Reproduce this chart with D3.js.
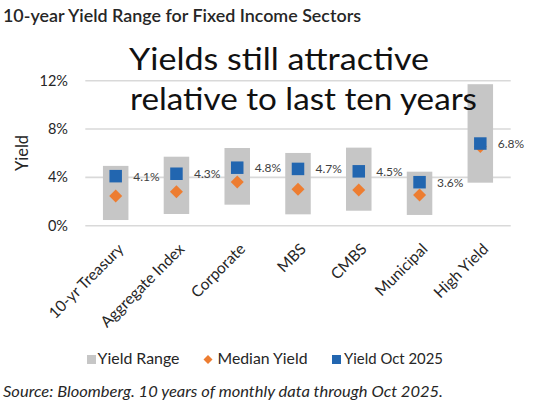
<!DOCTYPE html>
<html>
<head>
<meta charset="utf-8">
<script src="https://cdn.jsdelivr.net/npm/d3@7"></script>
<style>
  body { margin: 0; background: #fff; }
  text { font-family: Lato, "Noto Sans", sans-serif; }
</style>
</head>
<body>
<div id="chart"></div>
<script>
// sectors and yields (percent)
var categories = ["10-yr Treasury", "Aggregate Index", "Corporate", "MBS", "CMBS", "Municipal", "High Yield"];
var rangeLow  = [0.47, 0.97, 1.74, 0.94, 1.24, 0.89, 3.56];
var rangeHigh = [4.95, 5.71, 6.43, 6.02, 6.46, 4.47, 11.71];
var medianYield = [2.46, 2.82, 3.62, 3.01, 2.96, 2.54, 6.55];
var currentYield = [4.1, 4.3, 4.8, 4.7, 4.5, 3.6, 6.8];
var currentLabels = ["4.1%", "4.3%", "4.8%", "4.7%", "4.5%", "3.6%", "6.8%"];
var yTicks = [0, 4, 8, 12];

var W = 537, H = 408;
var margin = {top: 80.7, right: 26.3, bottom: 182.3, left: 85.3};

var svg = d3.select("#chart").append("svg")
  .attr("width", W)
  .attr("height", H);

var x = d3.scaleBand()
  .domain(categories)
  .range([margin.left, W - margin.right]);

var y = d3.scaleLinear()
  .domain([0, 12])
  .range([H - margin.bottom, margin.top]);

// title
svg.append("text")
  .attr("x", 3).attr("y", 22)
  .attr("font-size", 17)
  .attr("font-weight", 600)
  .attr("fill", "#262626")
  .attr("textLength", 358).attr("lengthAdjust", "spacingAndGlyphs")
  .text("10-year Yield Range for Fixed Income Sectors");

// gridlines
svg.append("g").selectAll("line")
  .data(yTicks)
  .enter().append("line")
  .attr("x1", margin.left).attr("x2", W - margin.right)
  .attr("y1", function(d) { return y(d); })
  .attr("y2", function(d) { return y(d); })
  .attr("stroke", "#d9d9d9")
  .attr("stroke-width", 1.6);

// y tick labels
svg.append("g").selectAll("text")
  .data(yTicks)
  .enter().append("text")
  .attr("x", 68)
  .attr("y", function(d) { return y(d) + 5; })
  .attr("text-anchor", "end")
  .attr("font-size", 14.5)
  .attr("fill", "#262626")
  .text(function(d) { return d + "%"; });

// y axis title
svg.append("text")
  .attr("transform", "translate(28,153) rotate(-90)")
  .attr("text-anchor", "middle")
  .attr("font-size", 16.5)
  .attr("fill", "#262626")
  .text("Yield");

var bw = 25.5;

// yield range bars
svg.append("g").selectAll("rect")
  .data(categories)
  .enter().append("rect")
  .attr("x", function(d) { return x(d) + x.bandwidth() / 2 - bw / 2; })
  .attr("width", bw)
  .attr("y", function(d, i) { return y(rangeHigh[i]); })
  .attr("height", function(d, i) { return y(rangeLow[i]) - y(rangeHigh[i]); })
  .attr("fill", "#c6c6c6");

// median diamonds
var dsz = 6.5;
svg.append("g").selectAll("path")
  .data(categories)
  .enter().append("path")
  .attr("transform", function(d, i) {
    return "translate(" + (x(d) + x.bandwidth() / 2) + "," + y(medianYield[i]) + ")";
  })
  .attr("d", "M0," + (-dsz) + "L" + dsz + ",0L0," + dsz + "L" + (-dsz) + ",0Z")
  .attr("fill", "#ed7d31");

// current yield squares
var sq = 12.5;
svg.append("g").selectAll("rect")
  .data(categories)
  .enter().append("rect")
  .attr("x", function(d) { return x(d) + x.bandwidth() / 2 - sq / 2; })
  .attr("y", function(d, i) { return y(currentYield[i]) - sq / 2; })
  .attr("width", sq).attr("height", sq)
  .attr("fill", "#2266b0");

// labels for current yield
svg.append("g").selectAll("text")
  .data(categories)
  .enter().append("text")
  .attr("x", function(d) { return x(d) + x.bandwidth() / 2 + 17.5; })
  .attr("y", function(d, i) { return y(currentYield[i]) + 4.5; })
  .attr("font-size", 12)
  .attr("fill", "#404040")
  .text(function(d, i) { return currentLabels[i]; });

// annotation, drawn over the bars
var note = svg.append("g")
  .attr("font-size", 31)
  .attr("font-weight", 400)
  .attr("fill", "#111");
note.append("text")
  .attr("x", 129).attr("y", 70)
  .attr("textLength", 300).attr("lengthAdjust", "spacingAndGlyphs")
  .text("Yields still attractive");
note.append("text")
  .attr("x", 130).attr("y", 110)
  .attr("textLength", 347).attr("lengthAdjust", "spacingAndGlyphs")
  .text("relative to last ten years");

// category labels
svg.append("g").selectAll("text")
  .data(categories)
  .enter().append("text")
  .attr("transform", function(d) {
    return "translate(" + (x(d) + x.bandwidth() / 2 + 9) + ",250) rotate(-45)";
  })
  .attr("text-anchor", "end")
  .attr("font-size", 15.5)
  .attr("fill", "#262626")
  .text(function(d) { return d; });

// legend
var legend = svg.append("g").attr("font-size", 15).attr("fill", "#262626");
legend.append("rect").attr("x", 87).attr("y", 355).attr("width", 9).attr("height", 9).attr("fill", "#c6c6c6");
legend.append("text").attr("x", 97.5).attr("y", 364)
  .attr("textLength", 82).attr("lengthAdjust", "spacingAndGlyphs")
  .text("Yield Range");
legend.append("path")
  .attr("transform", "translate(208,359.5)")
  .attr("d", "M0,-4.5L4.5,0L0,4.5L-4.5,0Z")
  .attr("fill", "#ed7d31");
legend.append("text").attr("x", 217.5).attr("y", 364)
  .attr("textLength", 90).attr("lengthAdjust", "spacingAndGlyphs")
  .text("Median Yield");
legend.append("rect").attr("x", 332).attr("y", 355).attr("width", 9).attr("height", 9).attr("fill", "#2266b0");
legend.append("text").attr("x", 344).attr("y", 364)
  .attr("textLength", 99).attr("lengthAdjust", "spacingAndGlyphs")
  .text("Yield Oct 2025");

// source note
svg.append("text")
  .attr("x", 3).attr("y", 397)
  .attr("font-size", 15)
  .attr("font-style", "italic")
  .attr("fill", "#262626")
  .attr("textLength", 440).attr("lengthAdjust", "spacingAndGlyphs")
  .text("Source: Bloomberg. 10 years of monthly data through Oct 2025.");
</script>
</body>
</html>
